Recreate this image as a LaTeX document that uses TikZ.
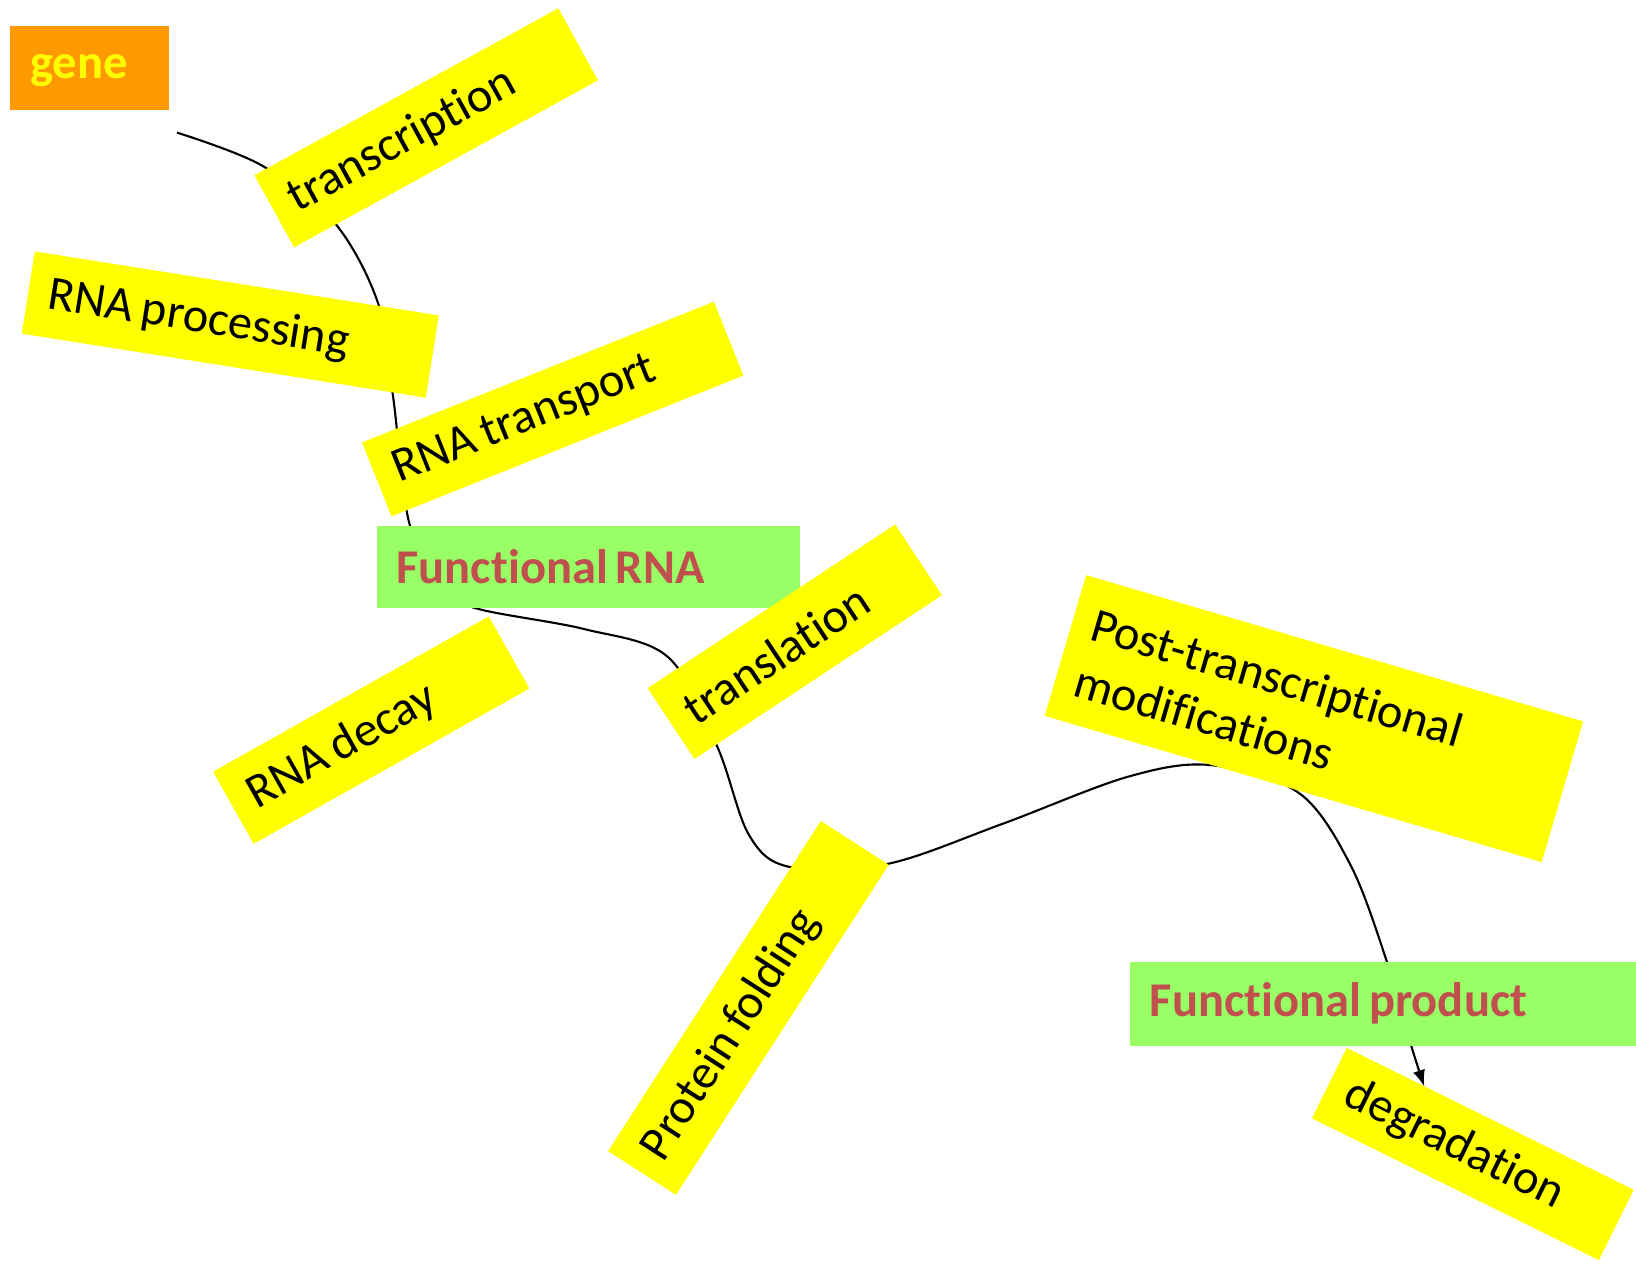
\documentclass[tikz,border=0pt]{standalone}
\usepackage{fontspec}
\setmainfont{Carlito}[Ligatures=NoCommon]
\usetikzlibrary{arrows, calc, backgrounds}

\definecolor{boxyellow}{HTML}{FFFF00}
\definecolor{boxgreen}{HTML}{99FF66}
\definecolor{boxorange}{HTML}{FF9900}
\definecolor{textred}{HTML}{C0504D}

\tikzset{
	stepbox/.style = {fill=boxyellow, text=black, inner xsep=0.2cm, inner ysep=0pt, outer sep=0pt, align=left, font=\fontsize{13.8}{16.6}\selectfont, execute at begin node={\spaceskip=0.19em\relax}},
	prodbox/.style = {fill=boxgreen, text=textred, inner xsep=0.2cm, inner ysep=0pt, outer sep=0pt, align=left, font=\fontsize{13.8}{16.6}\selectfont\bfseries, execute at begin node={\spaceskip=0.16em\relax}},
	genebox/.style = {fill=boxorange, text=boxyellow, inner xsep=0.2cm, inner ysep=0pt, outer sep=0pt, align=left, font=\fontsize{13.8}{16.6}\selectfont\bfseries},
	pathway/.style = {line width=0.6pt, black}
}

\begin{document}
\begin{tikzpicture}[>=latex, x=0.01cm, y=-0.01cm]
%	%%%	Help Lines
%	\draw [thin, help lines, step=100] (0,0) grid (1636,1265);
	\useasboundingbox (0,0) rectangle (1636,1265);
	\clip (0,0) rectangle (1636,1265);
	%%%	Products
	\node [genebox, text width=1.186cm, minimum height=0.836cm, text height=0.32cm, text depth=0.1cm] (gene) at (89.7,67.8) {gene};
	\node [prodbox, text width=3.836cm, minimum height=0.824cm] (rna) at (588.5,567) {Functional RNA};
	\node [prodbox, text width=4.66cm, minimum height=0.835cm] (product) at (1383,1003.7) {Functional product};
	%%%	Steps
	\node [stepbox, text width=3.066cm, minimum height=0.822cm, rotate=28.8] (transcription) at (426.2,127.8) {transcription};
	\node [stepbox, text width=3.688cm, minimum height=0.832cm, rotate=-9] (processing) at (230.3,324.5) {RNA processing};
	\node [stepbox, text width=3.388cm, minimum height=0.795cm, rotate=21.8] (transport) at (552.7,409) {RNA transport};
	\node [stepbox, text width=2.763cm, minimum height=0.827cm, rotate=29.4] (decay) at (371.2,730.1) {RNA decay};
	\node [stepbox, text width=2.566cm, minimum height=0.848cm, rotate=33.5] (translation) at (794.8,641.7) {translation};
	\node [stepbox, text width=3.525cm, minimum height=0.807cm, rotate=57.2] (folding) at (748.4,1007.9) {Protein folding};
	\node [stepbox, text width=4.778cm, minimum height=1.466cm, rotate=-16.4] (modifications) at (1313.9,718.6) {Post-transcriptional\\modifications};
	\node [stepbox, text width=2.8cm, minimum height=0.785cm, rotate=-26.3] (degradation) at (1472.8,1154) {degradation};
	%%%	Path
	\coordinate (start) at ($(gene.south east)+(8,23)$);
	\coordinate (finish) at ($(degradation.north west)!0.27!(degradation.north east)$);
	\begin{scope}[on background layer]
	\draw [pathway, ->] plot [smooth, tension=0.55] coordinates {(start) (261,165) (334,222) (378,303) (393,396) (409,522) (440,585) (475,608) (584,629) (668,657) (717,746) (749,835) (790,867) (887,864) (1002,824) (1127,777) (1210,765) (1299,793) (1351,866) (1388,965) (1411,1045) (finish)};
	\end{scope}
\end{tikzpicture}
\end{document}
